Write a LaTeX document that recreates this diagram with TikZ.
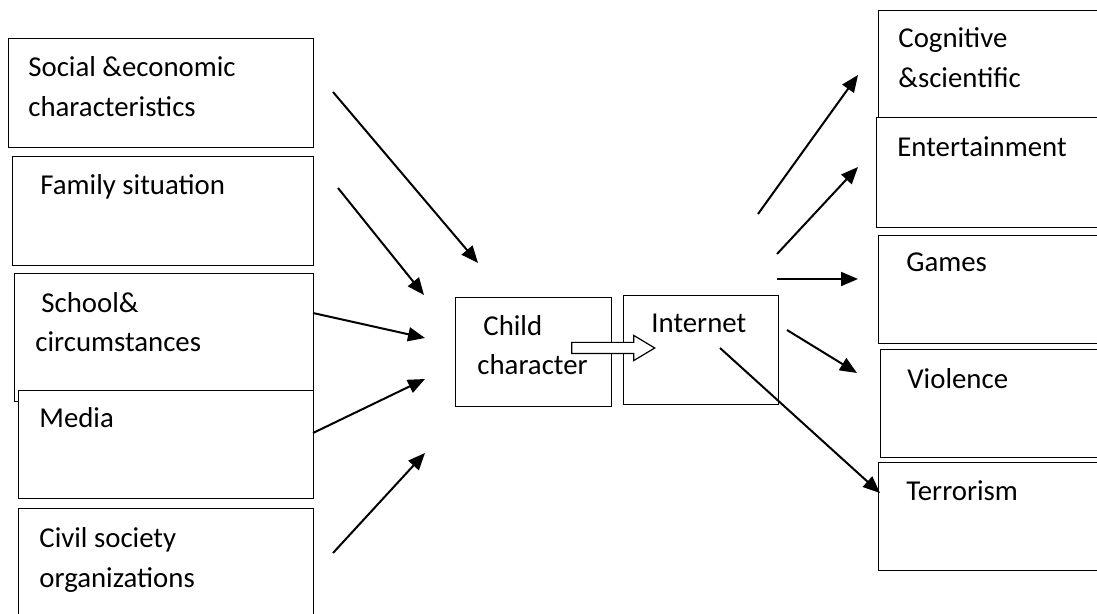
\documentclass[tikz,border=0pt]{standalone}
\usepackage{fontspec}
\setmainfont{Carlito}
\usetikzlibrary{arrows.meta,shapes.arrows}

\tikzset{
  box/.style={draw, fill=white, line width=0.65pt, anchor=north west, inner sep=0pt},
  txt/.style={anchor=base west, inner sep=0pt, align=left, font=\fontsize{14.4pt}{20pt}\selectfont},
  arr/.style={line width=1pt, -{Triangle[length=8.5pt,width=7pt]}}
}

\begin{document}
\begin{tikzpicture}[x=0.5pt,y=-0.5pt]
\useasboundingbox (0,0) rectangle (1097,614);

% Boxes
\foreach \nm/\x/\y/\w/\h in {social/8/38/305/109, family/12/156/301/109,
    school/14/273/299/128, media/18/390/295/108, civil/18/508/295/130,
    child/455/297/156/109, internet/623/295/155/109,
    cognitive/878/10/260/107, entertain/876/117/260/110, games/878/235/260/108,
    violence/880/349/260/108, terrorism/878/462/260/108} {
    \node[box, minimum width=\w*0.5pt, minimum height=\h*0.5pt] (\nm) at (\x,\y) {};
}

% Labels (multi-line ones sit on their last baseline)
\node[txt] (socialtxt) at (28,117) {Social \&economic\\characteristics};
\node[txt] (familytxt) at (40,195) {Family situation};
\node[txt] (schooltxt) at (35,352) {\hspace{3pt}School\&\\circumstances};
\node[txt] (mediatxt) at (39,428) {Media};
\node[txt] (civiltxt) at (39,587) {Civil society\\organizations};
\node[txt] (childtxt) at (477,375) {\hspace{3pt}Child\\character};
\node[txt] (internettxt) at (651,333) {Internet};
\node[txt] (cognitivetxt) at (898,88) {Cognitive\\\&scientific};
\node[txt] (entertaintxt) at (897,157) {Entertainment};
\node[txt] (gamestxt) at (906,272) {Games};
\node[txt] (violencetxt) at (907,388) {Violence};
\node[txt] (terrorismtxt) at (906,500) {Terrorism};

% Child -> Internet
\node[single arrow, draw, fill=white, line width=0.6pt, inner sep=0pt,
    text height=5pt, text depth=0pt, minimum height=41.5pt,
    single arrow head extend=3.5pt, single arrow tip angle=62] (flow) at (608.5,348) {};

% Influences on the child
\foreach \nm/\a/\b/\c/\d in {in1/333/92/478/263, in2/338/188/424/295,
    in3/313/313/425/338, in4/313/433/425/379, in5/333/553/425/453} {
    \coordinate (\nm s) at (\a,\b);
    \coordinate (\nm e) at (\c,\d);
    \draw[arr] (\nm s) -- (\nm e);
}

% Internet outcomes
\foreach \nm/\a/\b/\c/\d in {out1/758/214/858/75, out2/777/254/858/167,
    out3/777/279/858/279, out4/787/330/857/373, out5/720/348/880/493} {
    \coordinate (\nm s) at (\a,\b);
    \coordinate (\nm e) at (\c,\d);
    \draw[arr] (\nm s) -- (\nm e);
}
\end{tikzpicture}
\end{document}
